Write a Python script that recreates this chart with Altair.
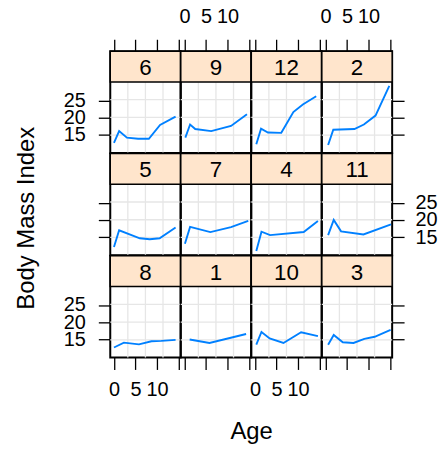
import altair as alt
import pandas as pd

# panel order as laid out (row by row, top to bottom)
panel_labels = ["6", "9", "12", "2", "5", "7", "4", "11", "8", "1", "10", "3"]

age_6 = [0.0, 1.2, 3.0, 5.6, 8.1, 10.7, 14.3]
bmi_6 = [12.7, 16.1, 14.2, 13.9, 13.9, 17.9, 20.3]
age_9 = [0.2, 1.3, 2.5, 6.2, 10.8, 14.5]
bmi_9 = [14.2, 18.0, 16.7, 16.1, 17.6, 21.0]
age_12 = [0.3, 1.4, 3.0, 6.1, 8.9, 11.1, 14.2]
bmi_12 = [12.3, 16.8, 15.7, 15.6, 21.6, 23.8, 26.2]
age_2 = [0.6, 1.8, 6.7, 8.9, 11.6, 14.8]
bmi_2 = [12.1, 16.5, 16.7, 18.0, 20.6, 29.2]
age_5 = [0.0, 1.2, 6.0, 8.3, 10.6, 14.3]
bmi_5 = [12.2, 17.0, 14.7, 14.4, 14.7, 17.8]
age_7 = [0.1, 1.3, 6.0, 10.8, 14.8]
bmi_7 = [13.1, 18.0, 16.5, 17.9, 19.7]
age_4 = [0.3, 1.5, 3.5, 11.3, 14.6]
bmi_4 = [11.0, 16.6, 15.6, 16.5, 19.7]
age_11 = [0.6, 1.9, 3.6, 8.8, 15.2]
bmi_11 = [15.6, 20.0, 16.7, 15.8, 18.7]
age_8 = [0.0, 2.3, 5.8, 8.7, 11.0, 14.3]
bmi_8 = [12.7, 14.1, 13.6, 14.5, 14.6, 14.9]
age_1 = [1.2, 5.8, 14.3]
bmi_1 = [15.0, 14.0, 16.6]
age_10 = [0.3, 1.5, 3.4, 6.6, 10.7, 14.6]
bmi_10 = [13.5, 17.2, 15.3, 14.0, 17.1, 16.0]
age_3 = [0.6, 1.9, 4.0, 6.5, 9.0, 11.4, 15.1]
bmi_3 = [13.5, 16.3, 14.2, 14.0, 15.2, 15.8, 17.8]

x_ticks = [0, 5, 10, 15]
y_ticks = [15, 20, 25]

ages = {"6": age_6, "9": age_9, "12": age_12, "2": age_2, "5": age_5, "7": age_7,
        "4": age_4, "11": age_11, "8": age_8, "1": age_1, "10": age_10, "3": age_3}
bmis = {"6": bmi_6, "9": bmi_9, "12": bmi_12, "2": bmi_2, "5": bmi_5, "7": bmi_7,
        "4": bmi_4, "11": bmi_11, "8": bmi_8, "1": bmi_1, "10": bmi_10, "3": bmi_3}

# layout constants
X_MIN, X_MAX = -0.86, 15.46
Y_MIN, Y_TOP = 9.8, 30.32
W, H_DATA, H_STRIP = 70.8, 71.4, 31.0
Y_MAX = Y_TOP + H_STRIP * (Y_TOP - Y_MIN) / H_DATA
H = H_DATA + H_STRIP

FONT = "Liberation Sans"
LINE_COL = "#0080ff"
STRIP_COL = "#ffe5cc"
GRID_COL = "#e6e6e6"

xscale = alt.Scale(domain=[X_MIN, X_MAX], nice=False, zero=False)
yscale = alt.Scale(domain=[Y_MIN, Y_MAX], nice=False, zero=False)

common_axis = dict(domain=False, grid=False, tickColor="black", tickWidth=1.3,
                   tickSize=12, labelFont=FONT, labelFontSize=20, labelColor="black",
                   labelOverlap=False,
                   titleFont=FONT, titleFontSize=24, titleColor="black",
                   titleFontWeight="normal")

vgrid_x = [X_MIN + k * (X_MAX - X_MIN) / 4 for k in (1, 2, 3)]
hgrid_y = [Y_MIN + k * (Y_TOP - Y_MIN) / 4 for k in (1, 2, 3)]


def make_panel(i, lab):
    row, col = divmod(i, 4)
    if row == 0:
        xaxis = alt.Axis(orient="top", values=x_ticks, labels=(col % 2 == 1),
                         labelExpr="datum.value == 15 ? '' : datum.label",
                         labelPadding=13, title=None, **common_axis)
    elif row == 2:
        kw = dict(title=None)
        if col == 1:
            kw = dict(title="Age", titleX=W, titleY=82, titleAlign="center",
                      titleBaseline="alphabetic")
        xaxis = alt.Axis(orient="bottom", values=x_ticks, labels=(col % 2 == 0),
                         labelExpr="datum.value == 15 ? '' : datum.label",
                         labelPadding=10, **kw, **common_axis)
    else:
        xaxis = None

    if col == 0:
        kw = dict(title=None)
        if row == 1:
            kw = dict(title="Body Mass Index", titleX=-77, titleY=H_STRIP + H_DATA / 2 - 2,
                      titleAngle=270, titleAlign="center", titleBaseline="alphabetic")
        yaxis = alt.Axis(orient="left", values=y_ticks, labels=(row != 1),
                         labelPadding=13, **kw, **common_axis)
    elif col == 3:
        yaxis = alt.Axis(orient="right", values=y_ticks, labels=(row == 1),
                         labelPadding=11, title=None, **common_axis)
    else:
        yaxis = None

    def X(field):
        return alt.X(field, type="quantitative", scale=xscale, axis=xaxis)

    def Y(field):
        return alt.Y(field, type="quantitative", scale=yscale, axis=yaxis)

    vg = alt.Chart(pd.DataFrame({"gx": vgrid_x})).mark_rule(
        color=GRID_COL, strokeWidth=1.3).encode(x=X("gx"))
    hg = alt.Chart(pd.DataFrame({"gy": hgrid_y})).mark_rule(
        color=GRID_COL, strokeWidth=1.3).encode(y=Y("gy"))
    line = alt.Chart(pd.DataFrame({"age": ages[lab], "bmi": bmis[lab]})).mark_line(
        color=LINE_COL, strokeWidth=1.9).encode(x=X("age"), y=Y("bmi"))
    strip_df = pd.DataFrame({"x1": [X_MIN], "x2": [X_MAX], "y1": [Y_TOP], "y2": [Y_MAX],
                             "xm": [(X_MIN + X_MAX) / 2], "ym": [(Y_TOP + Y_MAX) / 2],
                             "label": [lab]})
    strip = alt.Chart(strip_df).mark_rect(fill=STRIP_COL, stroke="black",
                                          strokeWidth=1.5).encode(
        x=X("x1"), x2="x2", y=Y("y1"), y2="y2")
    txt = alt.Chart(strip_df).mark_text(font=FONT, fontSize=22.5, color="black",
                                        baseline="middle", dy=1.5).encode(
        x=X("xm"), y=Y("ym"), text="label:N")
    return alt.layer(vg, hg, line, strip, txt).properties(width=W, height=H)


cells = [make_panel(i, lab) for i, lab in enumerate(panel_labels)]

chart = alt.concat(*cells, columns=4, spacing=0, bounds="flush").properties(
    padding={"left": 13, "top": 4, "right": 5, "bottom": 5}
).configure_view(stroke="black", strokeWidth=2)

chart.save("out.html", embed_options={"renderer": "svg", "actions": False})
